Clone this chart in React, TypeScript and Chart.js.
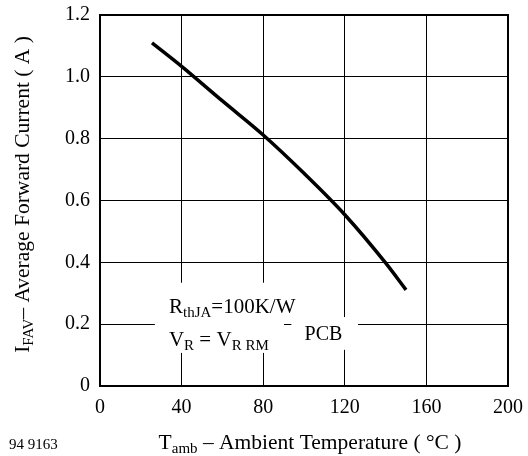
import React, { useEffect, useRef } from 'react';
import { Chart, registerables } from 'chart.js';

Chart.register(...registerables);

// ---- data ----
const tempC = [25.5, 40, 60, 80, 100, 120, 140, 150];
const currentA = [1.11, 1.034, 0.922, 0.812, 0.688, 0.554, 0.398, 0.311];
const xTicks = [0, 40, 80, 120, 160, 200];
const yTicks = [0, 0.2, 0.4, 0.6, 0.8, 1.0, 1.2];

const xTitleParts: [string, boolean][] = [['T', false], ['amb', true], [' \u2013 Ambient Temperature ( \u00B0C )', false]];
const yTitleParts: [string, boolean][] = [['I', false], ['FAV', true], ['\u2013 Average Forward Current ( A )', false]];
const noteLine1: [string, boolean][] = [['R', false], ['thJA', true], ['=100K/W', false]];
const noteLine2: [string, boolean][] = [['V', false], ['R', true], [' = ', false], ['V', false], ['R RM', true]];
const noteBoard = 'PCB';
const figureId = '94 9163';

const FONT = '"Liberation Serif", "Times New Roman", Times, serif';

function drawRich(
  ctx: CanvasRenderingContext2D,
  parts: [string, boolean][],
  x: number,
  y: number,
  size: number,
  subSize: number,
  subDy: number,
  center: boolean
) {
  let total = 0;
  const widths = parts.map(([t, sub]) => {
    ctx.font = `${sub ? subSize : size}px ${FONT}`;
    const w = ctx.measureText(t).width;
    total += w;
    return w;
  });
  let cx = center ? x - total / 2 : x;
  parts.forEach(([t, sub], i) => {
    ctx.font = `${sub ? subSize : size}px ${FONT}`;
    ctx.fillText(t, cx, y + (sub ? subDy : 0));
    cx += widths[i];
  });
}

const overlayPlugin = {
  id: 'overlayText',
  beforeDatasetsDraw(chart: any) {
    const { ctx, scales } = chart;
    const xs = scales.x;
    const ys = scales.y;
    ctx.save();
    // white patches behind the annotation text (grid is interrupted there)
    ctx.fillStyle = '#ffffff';
    const patches = [
      [26.9, 90.2, 0.107, 0.334],
      [93.8, 126.5, 0.117, 0.223],
    ];
    for (const [t0, t1, i0, i1] of patches) {
      const px0 = xs.getPixelForValue(t0);
      const px1 = xs.getPixelForValue(t1);
      const py0 = ys.getPixelForValue(i1);
      const py1 = ys.getPixelForValue(i0);
      ctx.fillRect(px0, py0, px1 - px0, py1 - py0);
    }
    ctx.fillStyle = '#000000';
    ctx.textBaseline = 'alphabetic';
    ctx.textAlign = 'left';
    drawRich(ctx, noteLine1, xs.getPixelForValue(33.8), ys.getPixelForValue(0.236), 21, 15, 4, false);
    drawRich(ctx, noteLine2, xs.getPixelForValue(33.8), ys.getPixelForValue(0.130), 21, 15, 4, false);
    ctx.font = `20px ${FONT}`;
    ctx.fillText(noteBoard, xs.getPixelForValue(100.3), ys.getPixelForValue(0.149));
    ctx.restore();
  },
  afterDraw(chart: any) {
    const { ctx, chartArea } = chart;
    const { left, right, top, bottom } = chartArea;
    ctx.save();
    // frame
    ctx.strokeStyle = '#000000';
    ctx.lineWidth = 2;
    ctx.strokeRect(left, top, right - left, bottom - top);
    // axis titles
    ctx.fillStyle = '#000000';
    ctx.textBaseline = 'alphabetic';
    ctx.textAlign = 'left';
    drawRich(ctx, xTitleParts, (left + right) / 2 + 6, 449, 21.5, 15, 4, true);
    ctx.font = `15px ${FONT}`;
    ctx.fillText(figureId, 9, 449);
    ctx.translate(28.5, (top + bottom) / 2 - 6);
    ctx.rotate(-Math.PI / 2);
    drawRich(ctx, yTitleParts, 0, 0, 21.5, 15, 4.5, true);
    ctx.restore();
  },
};

export default function App() {
  const canvasRef = useRef<HTMLCanvasElement | null>(null);

  useEffect(() => {
    const canvas = canvasRef.current;
    if (!canvas) return;
    const chart = new Chart(canvas, {
      type: 'scatter',
      data: {
        datasets: [
          {
            data: tempC.map((t, i) => ({ x: t, y: currentA[i] })),
            showLine: true,
            borderColor: '#000000',
            borderWidth: 3.5,
            pointRadius: 0,
            pointHoverRadius: 0,
            cubicInterpolationMode: 'monotone',
            fill: false,
          } as any,
        ],
      },
      options: {
        animation: false,
        responsive: false,
        devicePixelRatio: 1,
        events: [],
        layout: { padding: { top: 15, right: 20, bottom: 0, left: 0 } },
        plugins: {
          legend: { display: false },
          tooltip: { enabled: false },
          title: { display: false },
        },
        scales: {
          x: {
            type: 'linear',
            min: 0,
            max: 200,
            afterBuildTicks: (s: any) => {
              s.ticks = xTicks.map((v) => ({ value: v }));
            },
            afterFit: (s: any) => {
              s.height = 70;
            },
            grid: { color: '#000000', lineWidth: 1, drawTicks: true, tickLength: 10, tickColor: 'rgba(0,0,0,0)' },
            border: { display: false },
            ticks: {
              color: '#000000',
              padding: 0,
              maxRotation: 0,
              font: { family: FONT, size: 20 },
              callback: (v: any) => String(v),
            },
          },
          y: {
            type: 'linear',
            min: 0,
            max: 1.2,
            afterBuildTicks: (s: any) => {
              s.ticks = yTicks.map((v) => ({ value: v }));
            },
            afterFit: (s: any) => {
              s.width = 100;
            },
            grid: { color: '#000000', lineWidth: 1, drawTicks: true, tickLength: 10, tickColor: 'rgba(0,0,0,0)' },
            border: { display: false },
            ticks: {
              color: '#000000',
              padding: 0,
              font: { family: FONT, size: 20 },
              callback: (v: any) => (Number(v) === 0 ? '0' : Number(v).toFixed(1)),
            },
          },
        },
      },
      plugins: [overlayPlugin],
    });
    return () => {
      chart.destroy();
    };
  }, []);

  return (
    <div style={{ position: 'absolute', left: 0, top: 0, width: 528, height: 456, background: '#ffffff' }}>
      <canvas ref={canvasRef} width={528} height={456} style={{ display: 'block' }} />
    </div>
  );
}
